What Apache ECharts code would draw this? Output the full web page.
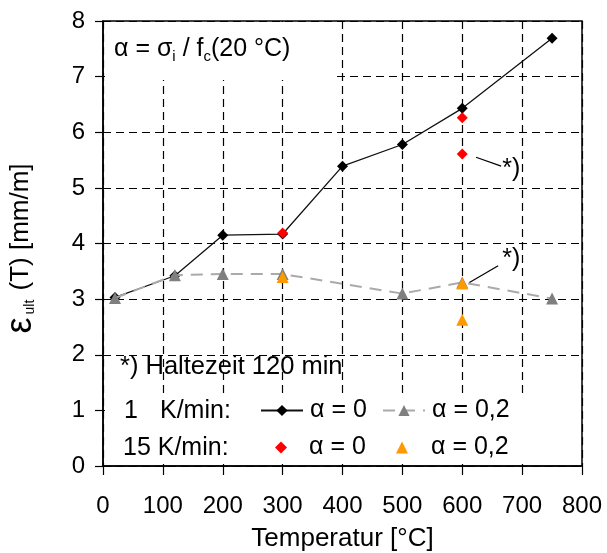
<!DOCTYPE html>
<html>
<head>
<meta charset="utf-8">
<script src="https://cdn.jsdelivr.net/npm/echarts@6/dist/echarts.min.js"></script>
<style>html,body{margin:0;padding:0;background:#fff}#c{width:607px;height:553px}</style>
</head>
<body>
<div id="c"></div>
<script>
// ---- data ----
const temps_1K_a0 = [20, 120, 200, 300, 400, 500, 600, 750];
const eps_1K_a0   = [3.03, 3.42, 4.15, 4.17, 5.39, 5.78, 6.43, 7.69];
const temps_1K_a02 = [20, 120, 200, 300, 500, 600, 750];
const eps_1K_a02   = [3.02, 3.43, 3.45, 3.45, 3.10, 3.30, 3.01];
const temps_15K_a0 = [300, 600, 600];
const eps_15K_a0   = [4.19, 6.26, 5.61];
const temps_15K_a02 = [300, 600, 600];
const eps_15K_a02   = [3.40, 3.28, 2.63];
const xMin = 0, xMax = 800, xStep = 100;
const yMin = 0, yMax = 8, yStep = 1;
const seriesNames = ['1K a0', '1K a02', '15K a0', '15K a02'];
const legendLabels = ['α = 0', 'α = 0,2', 'α = 0', 'α = 0,2'];
// annotation arrows ("*)" notes), in data coordinates
const note1Arrow = [[665, 5.39], [623, 5.55]];
const note2Arrow = [[660, 3.60], [612, 3.30]];
const note1Text = [682, 5.33];
const note2Text = [682, 3.72];

const FONT = 'Liberation Sans, Arial, sans-serif';
const zip = (a, b) => a.map((v, i) => [v, b[i]]);

const chart = echarts.init(document.getElementById('c'), null, {renderer: 'canvas'});

function legendAt(i, left, top, w, h, padLeft) {
  return {
    data: [seriesNames[i]], left: left, top: top, orient: 'horizontal',
    itemWidth: w, itemHeight: h, itemGap: 0, padding: 0, selectedMode: false,
    formatter: () => legendLabels[i],
    textStyle: {fontSize: 25, color: '#000', fontFamily: FONT, padding: [0, 0, 0, padLeft]},
    z: 6
  };
}

const option = {
  animation: false,
  backgroundColor: '#fff',
  grid: {left: 103, right: 25, top: 21, bottom: 87, outerBoundsMode: 'none', containLabel: false,
         show: true, borderColor: '#000', borderWidth: 1.5, backgroundColor: 'transparent'},
  xAxis: {
    type: 'value', min: xMin, max: xMax, interval: xStep,
    name: 'Temperatur [°C]', nameLocation: 'middle', nameGap: 60,
    nameTextStyle: {fontSize: 26, color: '#000', fontFamily: FONT},
    axisLine: {lineStyle: {color: '#000', width: 1.5}},
    axisTick: {show: true, length: 9, lineStyle: {color: '#000', width: 1.2}},
    axisLabel: {fontSize: 24, color: '#000', fontFamily: FONT, margin: 28},
    splitLine: {show: true, lineStyle: {color: '#000', width: 1.2, type: [8, 5]}}
  },
  yAxis: {
    type: 'value', min: yMin, max: yMax, interval: yStep,
    name: '{e|ε}{s|ult}{n| (T) [mm/m]}', nameLocation: 'middle', nameGap: 66, nameRotate: 90,
    nameTextStyle: {color: '#000', fontFamily: FONT, fontSize: 25, padding: [0, 10, 0, 0],
      rich: {
        e: {fontSize: 36, fontFamily: FONT, color: '#000', lineHeight: 32},
        s: {fontSize: 14, fontFamily: FONT, color: '#000', verticalAlign: 'bottom', lineHeight: 13, padding: [0, 2, 0, 3]},
        n: {fontSize: 26, fontFamily: FONT, color: '#000', lineHeight: 32}
      }},
    axisLine: {show: true, lineStyle: {color: '#000', width: 1.5}},
    axisTick: {show: true, length: 8, lineStyle: {color: '#000', width: 1.2}},
    axisLabel: {fontSize: 24, color: '#000', fontFamily: FONT, margin: 18},
    splitLine: {show: true, lineStyle: {color: '#000', width: 1.2, type: [8, 5]}}
  },
  legend: [
    legendAt(0, 260, 398, 42, 14, 2),
    legendAt(1, 382, 398, 42, 14, 2),
    legendAt(2, 275, 435, 12, 12, 17),
    legendAt(3, 396, 435, 12, 12, 18)
  ],
  graphic: [
    {type: 'rect', z: 1, shape: {x: 105, y: 22, width: 232, height: 58}, style: {fill: '#fff'}},
    {type: 'rect', z: 1, shape: {x: 105, y: 395, width: 475, height: 69}, style: {fill: '#fff'}},
    {type: 'text', z: 5, x: 114, y: 49, style: {
      text: '{a|α = σ}{s|i}{a| / f}{s|c}{a|(20 °C)}',
      verticalAlign: 'middle', align: 'left',
      rich: {
        a: {fontSize: 25, fontFamily: FONT, fill: '#000', lineHeight: 30},
        s: {fontSize: 15, fontFamily: FONT, fill: '#000', lineHeight: 15, verticalAlign: 'bottom'}
      }}},
    {type: 'text', z: 5, x: 120, y: 367, style: {text: '*) Haltezeit 120 min', font: '25.5px ' + FONT, fill: '#000', verticalAlign: 'middle'}},
    {type: 'text', z: 5, x: 124, y: 411, style: {text: '1', font: '25px ' + FONT, fill: '#000', verticalAlign: 'middle'}},
    {type: 'text', z: 5, x: 160, y: 411, style: {text: 'K/min:', font: '25px ' + FONT, fill: '#000', verticalAlign: 'middle'}},
    {type: 'text', z: 5, x: 123, y: 448, style: {text: '15 K/min:', font: '25px ' + FONT, fill: '#000', verticalAlign: 'middle'}}
  ],
  series: [
    {
      name: seriesNames[0], type: 'line', data: zip(temps_1K_a0, eps_1K_a0), z: 3,
      symbol: 'diamond', symbolSize: 11, showAllSymbol: true,
      lineStyle: {color: '#111', width: 1.3},
      itemStyle: {color: '#000'}
    },
    {
      name: seriesNames[1], type: 'line', data: zip(temps_1K_a02, eps_1K_a02), z: 4,
      symbol: 'triangle', symbolSize: 12, showAllSymbol: true,
      lineStyle: {color: '#aaaaaa', width: 2, type: [12, 8]},
      itemStyle: {color: '#7f7f7f'}
    },
    {
      name: seriesNames[2], type: 'scatter', data: zip(temps_15K_a0, eps_15K_a0), z: 5,
      symbol: 'diamond', symbolSize: 11,
      itemStyle: {color: '#ff0000', opacity: 1},
      markLine: {
        silent: true, symbol: ['none', 'arrow'], symbolSize: [0, 9],
        lineStyle: {color: '#000', width: 1.2, type: 'solid'}, label: {show: false},
        data: [[{coord: note1Arrow[0]}, {coord: note1Arrow[1]}]]
      },
      markPoint: {
        silent: true, symbol: 'circle', symbolSize: 0,
        label: {show: true, position: 'inside', formatter: '*)', fontSize: 25, color: '#000', fontFamily: FONT},
        data: [{coord: note1Text}]
      }
    },
    {
      name: seriesNames[3], type: 'scatter', data: zip(temps_15K_a02, eps_15K_a02), z: 5,
      symbol: 'triangle', symbolSize: 12,
      itemStyle: {color: '#ff9900', opacity: 1},
      markLine: {
        silent: true, symbol: ['none', 'arrow'], symbolSize: [0, 9],
        lineStyle: {color: '#000', width: 1.2, type: 'solid'}, label: {show: false},
        data: [[{coord: note2Arrow[0]}, {coord: note2Arrow[1]}]]
      },
      markPoint: {
        silent: true, symbol: 'circle', symbolSize: 0,
        label: {show: true, position: 'inside', formatter: '*)', fontSize: 25, color: '#000', fontFamily: FONT},
        data: [{coord: note2Text}]
      }
    }
  ]
};
chart.setOption(option);
</script>
</body>
</html>
